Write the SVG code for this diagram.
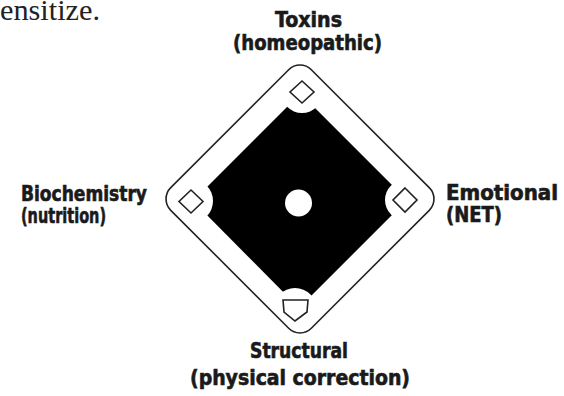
<svg xmlns="http://www.w3.org/2000/svg" width="564" height="396" viewBox="0 0 564 396">
<style>
.lbl{font-family:"DejaVu Sans Condensed","DejaVu Sans",sans-serif;font-weight:bold;font-size:21px;fill:#1a1a1a;stroke:#1a1a1a;stroke-width:0.6}
.base{fill:#fff;stroke:#222;stroke-width:1.6}
</style>
<defs>
<mask id="notch">
<rect x="0" y="0" width="564" height="396" fill="#fff"/>
<circle cx="302" cy="92" r="21" fill="#000"/>
<circle cx="191" cy="201" r="22" fill="#000"/>
<circle cx="405" cy="200" r="20" fill="#000"/>
<circle cx="295" cy="310" r="22" fill="#000"/>
</mask>
</defs>
<text x="0" y="20" font-family="Liberation Serif,serif" font-size="30" fill="#222" textLength="100" lengthAdjust="spacingAndGlyphs">ensitize.</text>
<g id="field">
<rect x="-99.4" y="-99.4" width="198.8" height="198.8" rx="16" fill="#fff" stroke="#222" stroke-width="1.6" transform="translate(300 199) rotate(45)"/>
<polygon points="300.5,93.5 407,200 299,308 193,201" fill="#000" mask="url(#notch)"/>
<circle cx="298.5" cy="203" r="13.5" fill="#fff"/>
</g>
<g id="connectors"></g>
<g id="base-top"><polygon class="base" points="302,81 314,92 302,103 290,92"/></g>
<g id="base-left"><polygon class="base" points="191,190 203,201.5 191,213 179,201.5"/></g>
<g id="base-right"><polygon class="base" points="405,188 417,200 405,212 393,200"/></g>
<g id="base-bottom"><polygon class="base" points="283,300 308,300 307,312 295,321 284,312"/></g>
<g id="toxins">
<text class="lbl" x="275" y="27" textLength="67" lengthAdjust="spacingAndGlyphs">Toxins</text>
<text class="lbl" x="233" y="50" textLength="149" lengthAdjust="spacingAndGlyphs">(homeopathic)</text>
</g>
<g id="biochemistry">
<text class="lbl" x="21" y="201" textLength="126" lengthAdjust="spacingAndGlyphs">Biochemistry</text>
<text class="lbl" x="21" y="223" textLength="85" lengthAdjust="spacingAndGlyphs">(nutrition)</text>
</g>
<g id="emotional">
<text class="lbl" x="446" y="200" textLength="112" lengthAdjust="spacingAndGlyphs">Emotional</text>
<text class="lbl" x="446" y="222" textLength="56" lengthAdjust="spacingAndGlyphs">(NET)</text>
</g>
<g id="structural">
<text class="lbl" x="250" y="358" textLength="98" lengthAdjust="spacingAndGlyphs">Structural</text>
<text class="lbl" x="190" y="385" textLength="220" lengthAdjust="spacingAndGlyphs">(physical correction)</text>
</g>
</svg>
